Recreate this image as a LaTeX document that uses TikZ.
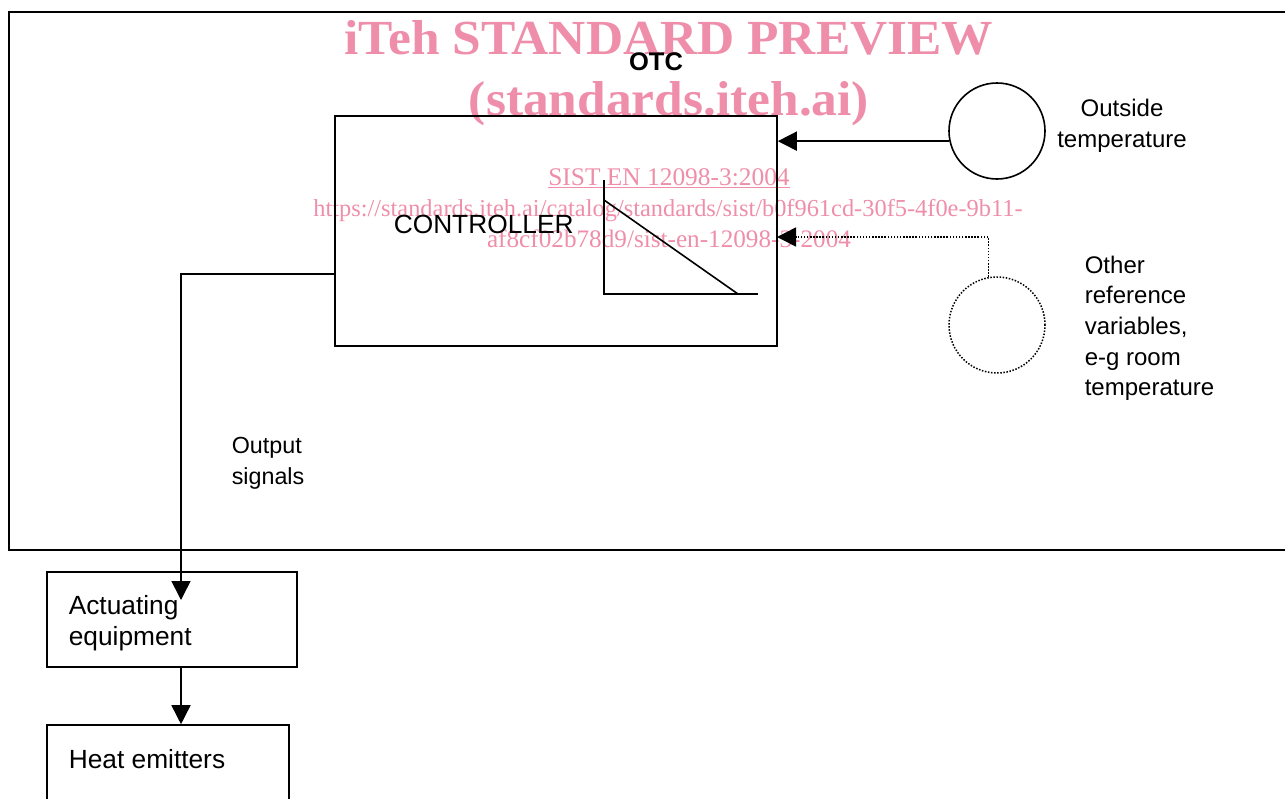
\documentclass[tikz,border=0pt]{standalone}
\usepackage{fontspec}
\setmainfont{Liberation Sans}
\newfontfamily\wmfont{Liberation Serif}
\usetikzlibrary{arrows.meta}
\definecolor{wmpink}{RGB}{239,142,170}
\newcommand{\wide}[1]{\scalebox{1.05}[1]{#1}}
\begin{document}
\begin{tikzpicture}[x=1pt, y=-1pt, line width=1.6pt,
  every node/.style={font=\fontsize{24}{30.7}\selectfont, inner sep=0pt},
  boxtxt/.style={font=\fontsize{26.3}{31}\selectfont},
  sigtxt/.style={font=\fontsize{23.3}{31}\selectfont},
  blk/.style={draw, line width=1.6pt},
  tip/.style={-{Triangle[length=19pt, width=19pt]}},
  dotline/.style={line width=1.5pt, dash pattern=on 1.5pt off 1.6pt},
  wmbig/.style={text=wmpink, font=\wmfont\bfseries\fontsize{49}{50}\selectfont},
  wmsmall/.style={text=wmpink, font=\wmfont\fontsize{25.2}{28}\selectfont}]
  \useasboundingbox (0,0) rectangle (1285,798);
  % Watermark (behind the diagram)
  \node[wmbig, anchor=base] (wm1) at (669,54) {\wide{iTeh STANDARD PREVIEW}};
  \node[wmbig, anchor=base] (wm2) at (669,115) {\wide{(standards.iteh.ai)}};
  \node[wmsmall, anchor=base, font=\wmfont\fontsize{25.4}{28}\selectfont] (wm3) at (669,185) {\underline{SIST EN 12098-3:2004}};
  \node[wmsmall, anchor=base, font=\wmfont\fontsize{24.4}{28}\selectfont] (wm4) at (668,216) {https://standards.iteh.ai/catalog/standards/sist/b0f961cd-30f5-4f0e-9b11-};
  \node[wmsmall, anchor=base] (wm5) at (669,247) {af8cf02b78d9/sist-en-12098-3-2004};
  % OTC frame, open to the right
  \draw (1300,12) -- (9,12) -- (9,550) -- (1300,550);
  \node[font=\fontsize{25.5}{30}\selectfont\bfseries] (otc) at (656,62) {OTC};
  % Controller with heating curve
  \node[blk, minimum width=442, minimum height=230] (ctrl) at (556,231) {};
  \node[boxtxt, anchor=west] (ctrltxt) at (393,224) {CONTROLLER};
  \draw (604,180) -- (604,294) -- (758,294);
  \draw (604,200) -- (738,294);
  % Sensors
  \node[draw, circle, minimum size=96] (tout) at (997,131) {};
  \node[align=center] (touttxt) at (1122,126) {Outside\\temperature};
  \node[draw, circle, dotline, minimum size=96] (oref) at (997,325) {};
  \node[align=left, anchor=north west] (oreftxt) at (1084,255)
    {Other\\reference\\variables,\\e-g room\\temperature};
  \coordinate (refin) at (777,237);
  \draw[tip] (tout.192) -- (tout.192 -| ctrl.east);
  \draw[dotline, tip] (oref.100) |- (refin);
  % Output side
  \coordinate (outsig) at (335,274);
  \coordinate (actin) at (181,600);
  \node[sigtxt, align=left, anchor=north west] (outtxt) at (231,436) {Output\\signals};
  \node[blk, minimum width=250, minimum height=95] (act) at (172,619.5) {};
  \node[boxtxt, align=left, anchor=north west] (acttxt) at (68,595) {Actuating\\equipment};
  \node[blk, minimum width=242, minimum height=90] (heat) at (168,770) {};
  \node[boxtxt, anchor=north west] (heattxt) at (68,749) {Heat emitters};
  \draw[tip] (outsig) -| (actin);
  \draw[tip] (actin |- act.south) -- (actin |- heat.north);
\end{tikzpicture}
\end{document}
